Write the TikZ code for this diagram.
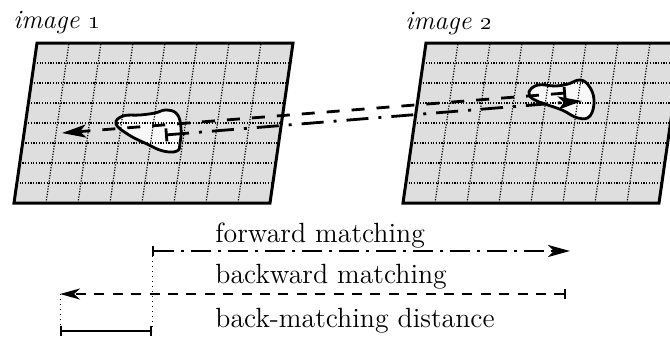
\documentclass[tikz,border=0pt]{standalone}
\usetikzlibrary{arrows.meta,calc}
\definecolor{panelgray}{HTML}{DEDEDE}
\definecolor{blobfill}{HTML}{F8F8F8}
\begin{document}
\begin{tikzpicture}[x=0.5pt,y=-0.5pt,
  panel/.style={fill=panelgray,draw=black,line width=1.5pt,line join=miter},
  gridline/.style={line width=0.6pt,dash pattern=on 0.6pt off 0.75pt,black},
  blobline/.style={draw=black,line width=1.4pt,line join=round},
  fwdtop/.style={line width=1.4pt,dash pattern=on 11pt off 5pt on 1.5pt off 5pt},
  bwdtop/.style={line width=1.4pt,dash pattern=on 6.5pt off 6pt},
  fwdleg/.style={line width=1.2pt,dash pattern=on 10pt off 3.5pt on 1.5pt off 3.5pt},
  bwdleg/.style={line width=1.1pt,dash pattern=on 5pt off 4.2pt},
  lbl/.style={inner sep=0pt,anchor=base west,font=\fontsize{13.9}{16}\selectfont},
  ttl/.style={inner sep=0pt,anchor=base west,font=\fontsize{13.2}{16}\selectfont\itshape},
  ]
\useasboundingbox (0,0) rectangle (670,344);
\clip (0,0) rectangle (670,344);

% panels
\foreach \dx/\nm in {0/L,389/R}{
  \coordinate (\nm a) at (14+\dx,203);
  \coordinate (\nm b) at (270+\dx,203);
  \coordinate (\nm c) at (293+\dx,43);
  \coordinate (\nm d) at (37+\dx,43);
}
\foreach \nm in {L,R}{
  \fill[panelgray] (\nm a) -- (\nm b) -- (\nm c) -- (\nm d) -- cycle;
}

% blob fills
\fill[blobfill] plot[smooth cycle,tension=0.7] coordinates {(116,124) (123,116) (140,115) (155,113) (166,110) (177,114) (181,128) (180,143) (177,151) (163,151) (147,144) (129,135)};
\fill[blobfill] plot[smooth cycle,tension=0.7] coordinates {(529,92) (538,85) (555,86) (568,84) (580,80) (589,86) (594,100) (590,116) (578,118) (562,110) (545,104) (533,99)};

% grids
\foreach \nm in {L,R}{
  \foreach \i in {1,...,7}{
    \draw[gridline] ($(\nm a)!\i/8!(\nm d)$) -- ($(\nm b)!\i/8!(\nm c)$);
    \draw[gridline] ($(\nm a)!\i/8!(\nm b)$) -- ($(\nm d)!\i/8!(\nm c)$);
  }
  \draw[panel,fill=none] (\nm a) -- (\nm b) -- (\nm c) -- (\nm d) -- cycle;
}

% blob outlines
\draw[blobline] plot[smooth cycle,tension=0.7] coordinates {(116,124) (123,116) (140,115) (155,113) (166,110) (177,114) (181,128) (180,143) (177,151) (163,151) (147,144) (129,135)};
\draw[blobline] plot[smooth cycle,tension=0.7] coordinates {(529,92) (538,85) (555,86) (568,84) (580,80) (589,86) (594,100) (590,116) (578,118) (562,110) (545,104) (533,99)};

% titles
\node[ttl] (t1) at (13,28) {image \oldstylenums{1}};
\node[ttl] (t2) at (405,29) {image \oldstylenums{2}};

% matching arrows between the images
\coordinate (tbs) at (566,93);
\coordinate (tbe) at (62,133);
\coordinate (tfs) at (165,135);
\coordinate (tfe) at (582,101);
\draw[bwdtop,{Bar[width=6pt]}-{Stealth[length=12pt,width=6.5pt,inset=3pt]}] (tbs) -- (tbe);
\draw[fwdtop,{Bar[width=6.5pt]}-{Stealth[length=12pt,width=6.5pt,inset=3pt]}] (tfs) -- (tfe);

% legend
\node[lbl] (lf) at (215,242) {forward matching};
\node[lbl] (lb) at (215,283) {backward matching};
\node[lbl] (ld) at (215,327) {back-matching distance};

\coordinate (fs) at (152,251);
\coordinate (fe) at (570,251);
\coordinate (bs) at (566,294);
\coordinate (be) at (60,294);
\coordinate (ds) at (60,331);
\coordinate (de) at (152,331);
\draw[dotted,line width=0.5pt] (fs) -- (de);
\draw[dotted,line width=0.5pt] (be) -- (ds);
\draw[fwdleg,{Bar[width=5pt]}-{Stealth[length=11pt,width=6pt,inset=3pt]}] (fs) -- (fe);
\draw[bwdleg,{Bar[width=5pt]}-{Stealth[length=10pt,width=5.5pt,inset=3pt]}] (bs) -- (be);
\draw[line width=0.8pt,{Bar[width=5pt]}-{Bar[width=5pt]}] (ds) -- (de);
\end{tikzpicture}
\end{document}
